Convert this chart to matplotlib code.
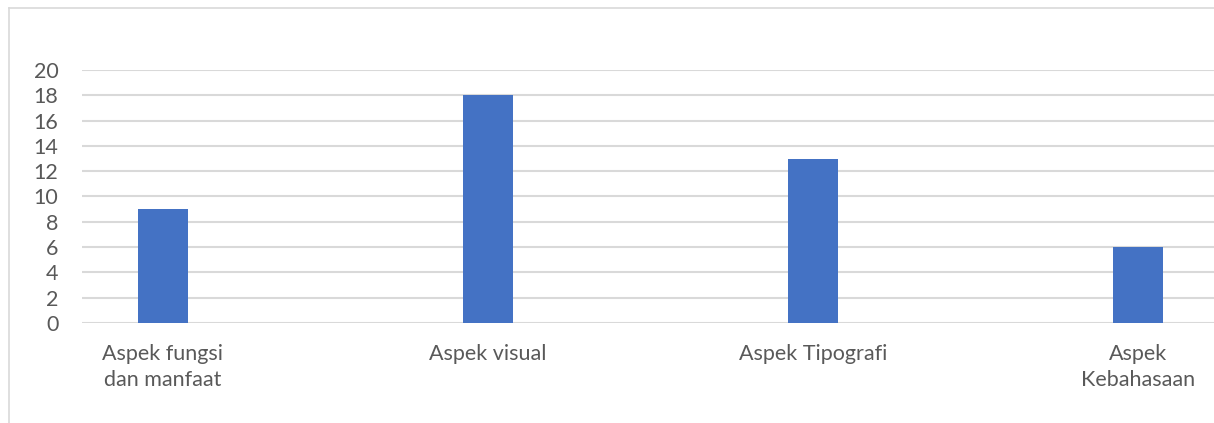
import matplotlib.pyplot as plt
from matplotlib.lines import Line2D

categories = ["Aspek fungsi\ndan manfaat", "Aspek visual", "Aspek Tipografi", "Aspek\nKebahasaan"]
values = [9, 18, 13, 6]
yticks = [0, 2, 4, 6, 8, 10, 12, 14, 16, 18, 20]

plt.rcParams['font.family'] = ['Lato', 'DejaVu Sans']

fig = plt.figure(figsize=(12.14, 4.23), dpi=100)
ax = fig.add_axes([82 / 1214, 100 / 423, 1 - 82 / 1214, 253 / 423])

x = list(range(len(categories)))
ax.bar(x, values, width=0.154, color="#4472C4", zorder=3)

ax.set_xlim(-0.249, 3.234)
ax.set_ylim(0, 20)
ax.set_yticks(yticks)
ax.set_xticks(x)
ax.set_xticklabels(categories, multialignment="center", linespacing=1.4)
ax.grid(axis="y", color="#D9D9D9", linewidth=1.5, zorder=0)
ax.tick_params(axis="both", length=0, labelsize=15.5, colors="#595959")
ax.tick_params(axis="x", pad=15)
ax.tick_params(axis="y", pad=17)
for s in ax.spines.values():
    s.set_visible(False)

# chart border (cropped at right and bottom)
fig.add_artist(Line2D([9 / 1214, 9 / 1214], [0, 1 - 8 / 423], color="#D9D9D9", linewidth=1.2))
fig.add_artist(Line2D([9 / 1214, 1], [1 - 8 / 423, 1 - 8 / 423], color="#D9D9D9", linewidth=1.2))

fig.savefig("out.png", dpi=100)
